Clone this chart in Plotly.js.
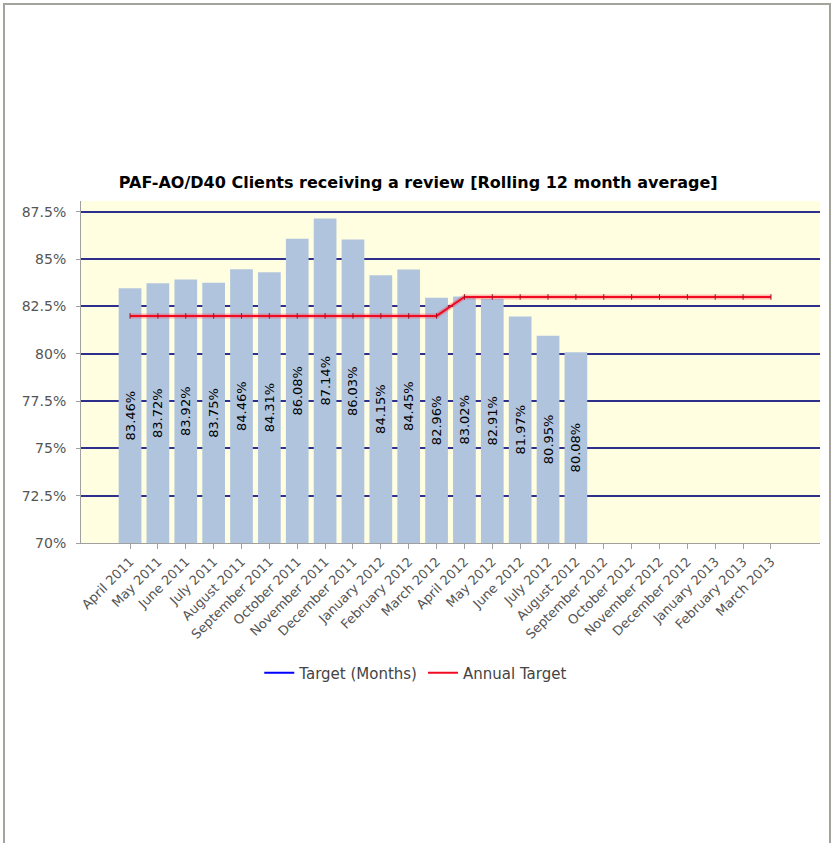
<!DOCTYPE html>
<html>
<head>
<meta charset="utf-8">
<script src="https://cdn.plot.ly/plotly-3.0.1.min.js"></script>
<style>
  html, body { margin: 0; padding: 0; background: #ffffff; }
  #frame {
    position: absolute; left: 3px; top: 3px; width: 824px; height: 850px;
    border-top: 2px solid #a4a49c; border-left: 2px solid #a4a49c; border-right: 2px solid #a4a49c;
  }
  #chart { position: absolute; left: 0; top: 0; width: 833px; height: 843px; }
</style>
</head>
<body>
<div id="frame"></div>
<div id="chart"></div>
<script>
// Months on the category axis
const months = [
  "April 2011", "May 2011", "June 2011", "July 2011", "August 2011", "September 2011",
  "October 2011", "November 2011", "December 2011", "January 2012", "February 2012", "March 2012",
  "April 2012", "May 2012", "June 2012", "July 2012", "August 2012", "September 2012",
  "October 2012", "November 2012", "December 2012", "January 2013", "February 2013", "March 2013"
];

// Rolling 12 month average (%), no data yet after August 2012
const rollingAvg = [
  83.46, 83.72, 83.92, 83.75, 84.46, 84.31,
  86.08, 87.14, 86.03, 84.15, 84.45, 82.96,
  83.02, 82.91, 81.97, 80.95, 80.08, null,
  null, null, null, null, null, null
];

// Annual target (%)
const annualTarget = [
  82, 82, 82, 82, 82, 82, 82, 82, 82, 82, 82, 82,
  83, 83, 83, 83, 83, 83, 83, 83, 83, 83, 83, 83
];

// Monthly target (%) - no values recorded
const monthlyTarget = months.map(() => null);

// Value axis
const yMin = 70;
const yTicks = [70, 72.5, 75, 77.5, 80, 82.5, 85, 87.5];
const yTickText = yTicks.map(v => v + "%");

const FONT = "Tahoma, 'DejaVu Sans', sans-serif";

// bars start at the bottom of the value axis so the labels sit inside the visible part
const barHeights = rollingAvg.map(v => v === null ? null : v - yMin);
const labels = rollingAvg.map(v => v === null ? "" : v.toFixed(2) + "%");

const traces = [
  {
    type: "bar",
    x: months,
    y: barHeights,
    base: yMin,
    marker: { color: "#b0c4de" },
    text: labels,
    textposition: "inside",
    insidetextanchor: "middle",
    textangle: -90,
    constraintext: "none",
    textfont: { family: FONT, size: 13, color: "#000000" },
    showlegend: false,
    hoverinfo: "x+text"
  },
  {
    type: "scatter",
    mode: "lines",
    name: "Target (Months)",
    x: months,
    y: monthlyTarget,
    line: { color: "#0000ff", width: 2 },
    showlegend: true
  },
  {
    // soft halo under the target line
    type: "scatter",
    mode: "lines",
    x: months,
    y: annualTarget,
    line: { color: "rgba(255,40,60,0.3)", width: 5 },
    showlegend: false,
    hoverinfo: "skip"
  },
  {
    type: "scatter",
    mode: "lines",
    name: "Annual Target",
    x: months,
    y: annualTarget,
    line: { color: "#f00a22", width: 2 },
    showlegend: true
  },
  {
    // small tick marks at each month on the target line
    type: "scatter",
    mode: "markers",
    x: months,
    y: annualTarget,
    marker: { symbol: "line-ns", size: 4, line: { color: "#a01020", width: 1 } },
    showlegend: false,
    hoverinfo: "skip"
  }
];

const layout = {
  width: 833,
  height: 843,
  margin: { l: 81, r: 13, t: 201, b: 300 },
  paper_bgcolor: "rgba(0,0,0,0)",
  plot_bgcolor: "#fffee0",
  bargap: 0.185,
  title: {
    text: "<b>PAF-AO/D40 Clients receiving a review [Rolling 12 month average]</b>",
    font: { family: FONT, size: 16, color: "#000000" },
    x: 0.502, xref: "container", xanchor: "center",
    y: 1 - 182 / 843, yref: "container", yanchor: "middle"
  },
  xaxis: {
    type: "category",
    range: [-1.76, 24.76],
    tickangle: -45,
    ticks: "outside",
    ticklen: 5,
    tickcolor: "#a0a0a0",
    showline: true,
    linecolor: "#a0a0a0",
    linewidth: 1,
    showgrid: false,
    tickfont: { family: FONT, size: 13, color: "#555555" },
    fixedrange: true
  },
  yaxis: {
    range: [yMin, 88.07],
    tickmode: "array",
    tickvals: yTicks,
    ticktext: yTickText,
    ticks: "outside",
    ticklen: 4,
    tickcolor: "#a0a0a0",
    ticklabelstandoff: 7,
    showline: true,
    linecolor: "#a0a0a0",
    linewidth: 1,
    showgrid: true,
    gridcolor: "#2e2e8c",
    gridwidth: 2,
    zeroline: false,
    tickfont: { family: FONT, size: 14, color: "#555555" },
    fixedrange: true
  },
  legend: {
    orientation: "h",
    x: 0.453, xanchor: "center",
    y: -0.38, yanchor: "middle",
    font: { family: FONT, size: 15, color: "#444444" },
    bgcolor: "rgba(0,0,0,0)",
    itemwidth: 30
  },
  showlegend: true
};

Plotly.newPlot("chart", traces, layout, { displayModeBar: false, staticPlot: true });
</script>
</body>
</html>
